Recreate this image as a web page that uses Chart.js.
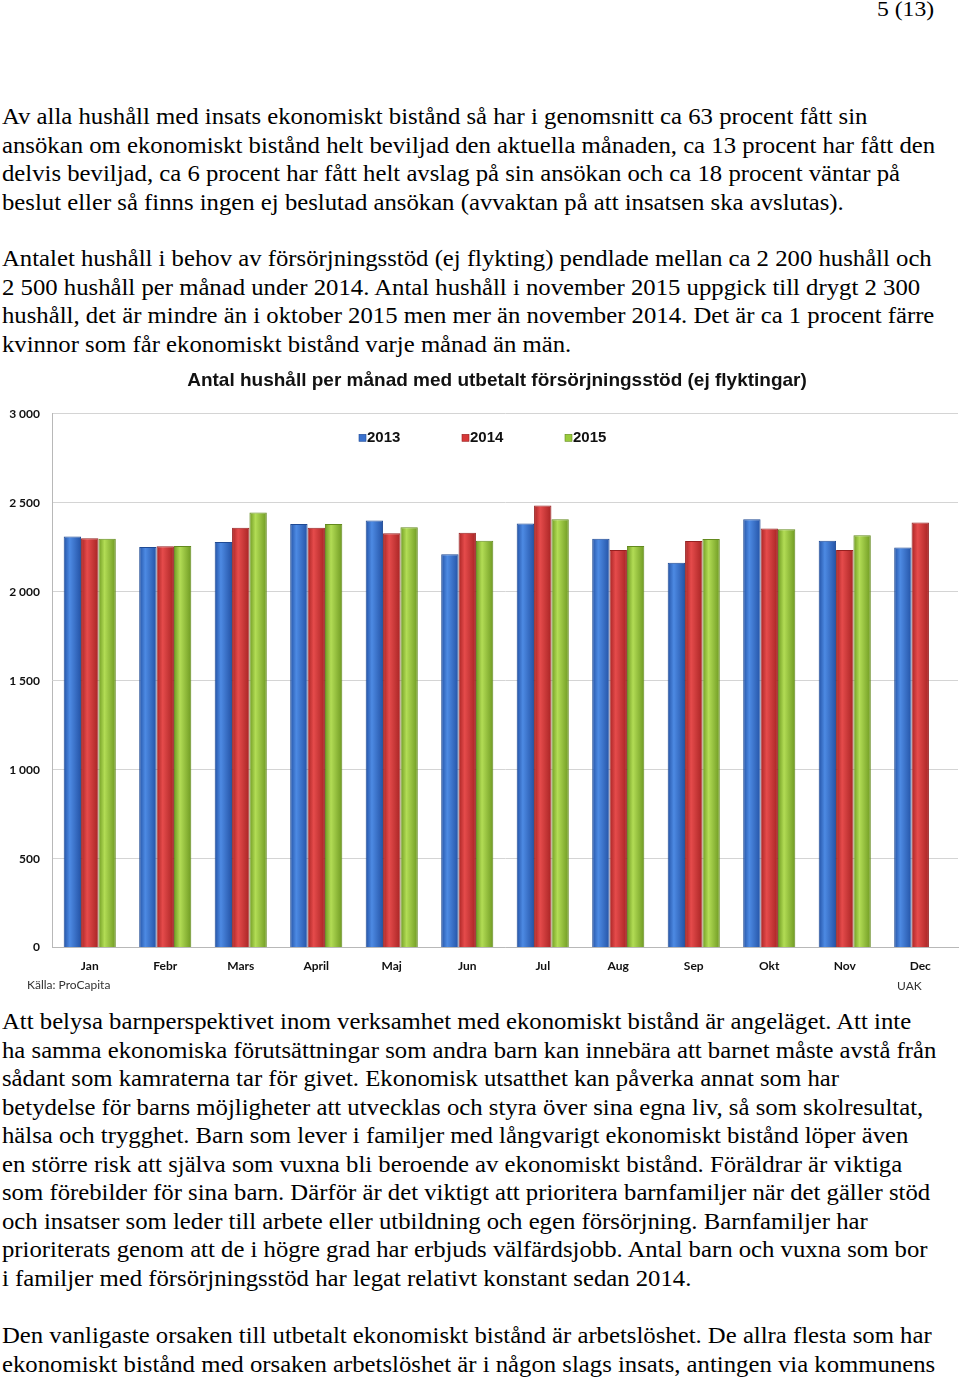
<!DOCTYPE html>
<html lang="sv">
<head>
<meta charset="utf-8">
<script src="https://cdn.jsdelivr.net/npm/chart.js@4.4.1/dist/chart.umd.min.js"></script>
<style>
html, body { margin: 0; padding: 0; background: #fff; }
body { width: 960px; height: 1380px; position: relative; overflow: hidden;
       font-family: "Liberation Serif", "Times New Roman", serif; color: #000; }
.txt { position: absolute; left: 2px; font-size: 23px; line-height: 28.5px;
       white-space: nowrap; transform-origin: 0 0; transform: scaleX(1.075); }
.txt div { height: 28.5px; }
#pagenr { position: absolute; left: 877px; top: -5px; font-size: 22px; line-height: 28px;
          transform-origin: 0 0; transform: scaleX(1.075); }
#chart-box { position: absolute; left: 0; top: 360px; width: 994px; height: 630px; }
.note { position: absolute; font-family: Lato, "Liberation Sans", sans-serif; font-size: 12px; color: #333; }
</style>
</head>
<body>

<div id="pagenr">5 (13)</div>

<div class="txt" style="top:103px">
  <div>Av alla hushåll med insats ekonomiskt bistånd så har i genomsnitt ca 63 procent fått sin</div>
  <div>ansökan om ekonomiskt bistånd helt beviljad den aktuella månaden, ca 13 procent har fått den</div>
  <div>delvis beviljad, ca 6 procent har fått helt avslag på sin ansökan och ca 18 procent väntar på</div>
  <div>beslut eller så finns ingen ej beslutad ansökan (avvaktan på att insatsen ska avslutas).</div>
</div>

<div class="txt" style="top:245px">
  <div>Antalet hushåll i behov av försörjningsstöd (ej flykting) pendlade mellan ca 2 200 hushåll och</div>
  <div>2 500 hushåll per månad under 2014. Antal hushåll i november 2015 uppgick till drygt 2 300</div>
  <div>hushåll, det är mindre än i oktober 2015 men mer än november 2014. Det är ca 1 procent färre</div>
  <div>kvinnor som får ekonomiskt bistånd varje månad än män.</div>
</div>

<div id="chart-box"><canvas id="chart"></canvas></div>
<div class="note" style="left:27px; top:977px;">Källa: ProCapita</div>
<div class="note" style="left:897px; top:978px;">UAK</div>

<div class="txt" style="top:1008px">
  <div>Att belysa barnperspektivet inom verksamhet med ekonomiskt bistånd är angeläget. Att inte</div>
  <div>ha samma ekonomiska förutsättningar som andra barn kan innebära att barnet måste avstå från</div>
  <div>sådant som kamraterna tar för givet. Ekonomisk utsatthet kan påverka annat som har</div>
  <div>betydelse för barns möjligheter att utvecklas och styra över sina egna liv, så som skolresultat,</div>
  <div>hälsa och trygghet. Barn som lever i familjer med långvarigt ekonomiskt bistånd löper även</div>
  <div>en större risk att själva som vuxna bli beroende av ekonomiskt bistånd. Föräldrar är viktiga</div>
  <div>som förebilder för sina barn. Därför är det viktigt att prioritera barnfamiljer när det gäller stöd</div>
  <div>och insatser som leder till arbete eller utbildning och egen försörjning. Barnfamiljer har</div>
  <div>prioriterats genom att de i högre grad har erbjuds välfärdsjobb. Antal barn och vuxna som bor</div>
  <div>i familjer med försörjningsstöd har legat relativt konstant sedan 2014.</div>
</div>

<div class="txt" style="top:1322px">
  <div>Den vanligaste orsaken till utbetalt ekonomiskt bistånd är arbetslöshet. De allra flesta som har</div>
  <div>ekonomiskt bistånd med orsaken arbetslöshet är i någon slags insats, antingen via kommunens</div>
</div>

<script>
// months on the x axis
const months = ['Jan', 'Febr', 'Mars', 'April', 'Maj', 'Jun', 'Jul', 'Aug', 'Sep', 'Okt', 'Nov', 'Dec'];

// households per month
const hh2013 = [2310, 2252, 2280, 2380, 2400, 2210, 2383, 2298, 2163, 2408, 2287, 2248];
const hh2014 = [2300, 2255, 2360, 2360, 2328, 2332, 2485, 2234, 2285, 2355, 2234, 2389];
const hh2015 = [2298, 2257, 2445, 2380, 2362, 2287, 2408, 2257, 2296, 2351, 2317, null];

const yTickLabels = ['0', '500', '1 000', '1 500', '2 000', '2 500', '3 000'];

const CAT_PCT = 0.69;

// cylinder-ish shading, like the old Excel 3D bars
function shaded(dark, light, flat) {
    return function (ctx) {
        const chart = ctx.chart;
        const xs = chart.scales.x;
        if (!xs || ctx.type !== 'data') return flat;
        const cw = xs.width / months.length;
        const bw = cw * CAT_PCT / 3;
        const left = xs.getPixelForValue(ctx.dataIndex) - cw * CAT_PCT / 2 + ctx.datasetIndex * bw;
        if (!Number.isFinite(left) || !Number.isFinite(bw) || bw <= 0) return flat;
        const g = chart.ctx.createLinearGradient(left, 0, left + bw, 0);
        g.addColorStop(0, dark);
        g.addColorStop(0.35, light);
        g.addColorStop(1, dark);
        return g;
    };
}

const sans = '"Liberation Sans", Arial, sans-serif';
const calib = 'Lato, "Liberation Sans", sans-serif';

// legend sits inside the plot, under the top gridline
const innerLegend = {
    id: 'innerLegend',
    afterDraw(chart) {
        const { ctx, chartArea } = chart;
        const y = chartArea.top + 24;
        ctx.save();
        ctx.font = 'bold 15px ' + sans;
        ctx.textBaseline = 'middle';
        chart.data.datasets.forEach((ds, i) => {
            const x = chartArea.left + 307 + i * 103;
            ctx.fillStyle = ds.legendColor;
            ctx.fillRect(x, y - 3.5, 7, 7);
            ctx.strokeStyle = ds.borderColor;
            ctx.lineWidth = 0.6;
            ctx.strokeRect(x, y - 3.5, 7, 7);
            ctx.fillStyle = '#111';
            ctx.fillText(ds.label, x + 8, y + 0.5);
        });
        ctx.restore();
    }
};

new Chart(document.getElementById('chart'), {
    type: 'bar',
    data: {
        labels: months,
        datasets: [
            { label: '2013', data: hh2013, backgroundColor: shaded('#2453a6', '#4d8ae3', '#3a72cf'), borderColor: '#1f4a94', borderWidth: 1, legendColor: '#3a72cf', yAxisID: 'y' },
            { label: '2014', data: hh2014, backgroundColor: shaded('#a82424', '#e54b4b', '#d63838'), borderColor: '#962020', borderWidth: 1, legendColor: '#d63838', yAxisID: 'y' },
            { label: '2015', data: hh2015, backgroundColor: shaded('#6f9a22', '#b2dc55', '#9acb3c'), borderColor: '#638a1e', borderWidth: 1, legendColor: '#9acb3c', yAxisID: 'y' }
        ]
    },
    options: {
        animation: false,
        responsive: true,
        maintainAspectRatio: false,
        datasets: { bar: { categoryPercentage: CAT_PCT, barPercentage: 1.0 } },
        layout: { padding: { left: 0, right: 0, top: 0, bottom: 6 } },
        plugins: {
            title: {
                display: true,
                text: 'Antal hushåll per månad med utbetalt försörjningsstöd (ej flyktingar)',
                color: '#111',
                font: { family: sans, size: 19, weight: 'bold' },
                padding: { top: 9, bottom: 22 }
            },
            legend: { display: false },
            tooltip: { enabled: false }
        },
        scales: {
            x: {
                grid: { display: false, drawTicks: false },
                border: { display: true, color: '#b8b8b8', width: 1 },
                ticks: { color: '#111', padding: 11, font: { family: calib, size: 12, weight: 'bold' } }
            },
            y: {
                min: 0,
                max: 3000,
                afterFit: function (scale) { scale.width = 52; },
                grid: { color: '#d4d4d4', lineWidth: 1, drawTicks: false },
                border: { display: true, color: '#b8b8b8', width: 1 },
                ticks: {
                    stepSize: 500,
                    padding: 12,
                    color: '#111',
                    font: { family: calib, size: 12, weight: 'bold' },
                    callback: function (v) { return yTickLabels[v / 500]; }
                }
            },
            // empty spacer on the right, so the plot ends near the page edge
            // while the title stays centred where the original has it
            spacer: {
                type: 'linear',
                axis: 'y',
                position: 'right',
                min: 0,
                max: 1,
                afterFit: function (scale) { scale.width = 36; },
                grid: { display: false, drawTicks: false },
                border: { display: false },
                ticks: { display: false }
            }
        }
    },
    plugins: [innerLegend]
});
</script>
</body>
</html>
